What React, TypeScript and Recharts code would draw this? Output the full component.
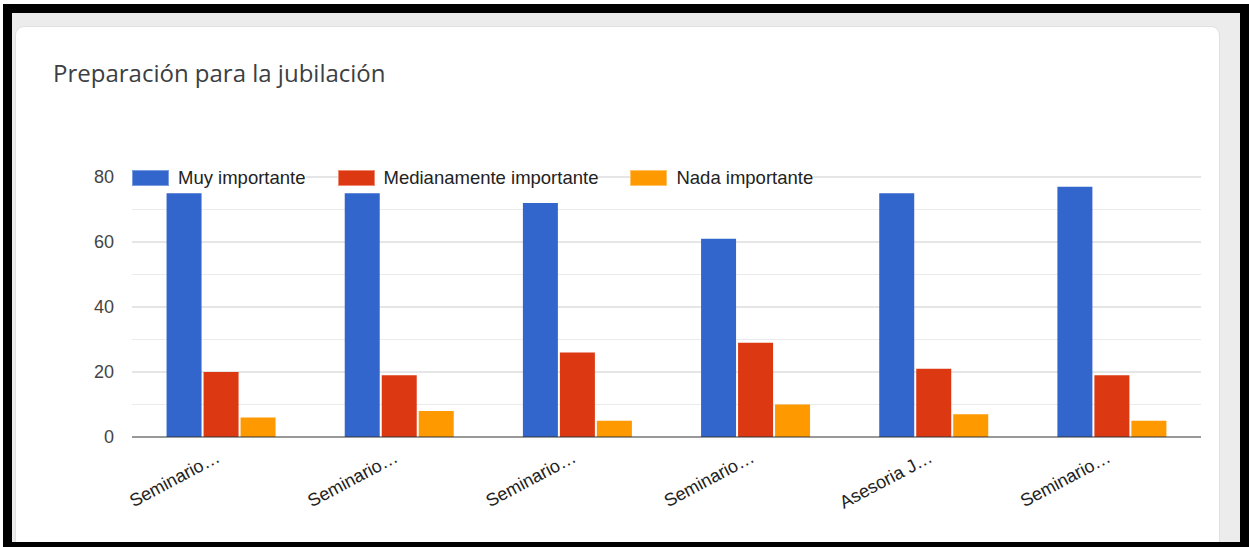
import { Bar, BarChart, CartesianGrid, Legend, XAxis, YAxis } from 'recharts';

const CATEGORIES = ['Seminario…', 'Seminario…', 'Seminario…', 'Seminario…', 'Asesoria J…', 'Seminario…'];
const MUY = [75, 75, 72, 61, 75, 77];
const MEDIANAMENTE = [20, 19, 26, 29, 21, 19];
const NADA = [6, 8, 5, 10, 7, 5];
const Y_TICKS = [0, 20, 40, 60, 80];
const MINOR_LINES = [10, 30, 50, 70];
const MAJOR_LINES = [20, 40, 60, 80];

const SERIES = [
  { key: 'muy', name: 'Muy importante', color: '#3366cc', edge: '#7a9ce0' },
  { key: 'medianamente', name: 'Medianamente importante', color: '#dc3912', edge: '#ec8a72' },
  { key: 'nada', name: 'Nada importante', color: '#ff9900', edge: '#ffc266' },
];

const data = CATEGORIES.map((name, i) => ({
  name,
  muy: MUY[i],
  medianamente: MEDIANAMENTE[i],
  nada: NADA[i],
}));

function SlantedTick({ x, y, payload }: any) {
  return (
    <g transform={`translate(${x},${y + 16})`}>
      <text
        textAnchor="end"
        transform="rotate(-28)"
        fontSize={18}
        fill="#222"
        fontFamily="'Liberation Sans', Arial, sans-serif"
      >
        {payload.value}
      </text>
    </g>
  );
}

function LegendContent() {
  return (
    <div style={{ display: 'flex', alignItems: 'center' }}>
      {SERIES.map((s) => (
        <div
          key={s.key}
          style={{ display: 'flex', alignItems: 'center', background: '#fff', marginRight: 32 }}
        >
          <span
            style={{
              width: 35,
              height: 14,
              background: s.color,
              border: `1px solid ${s.edge}`,
              marginRight: 9,
            }}
          />
          <span style={{ fontSize: 18.5, color: '#222', lineHeight: '20px' }}>{s.name}</span>
        </div>
      ))}
    </div>
  );
}

export default function App() {
  return (
    <div
      style={{
        position: 'absolute',
        left: 0,
        top: 0,
        width: 1249,
        height: 547,
        background: '#fff',
        overflow: 'hidden',
        fontFamily: "'Liberation Sans', Arial, sans-serif",
      }}
    >
      <div style={{ position: 'absolute', left: 3, top: 4, width: 1246, height: 560, background: '#000' }} />
      <div
        style={{
          position: 'absolute',
          left: 12,
          top: 13,
          width: 1228,
          height: 529,
          background: '#ececec',
          overflow: 'hidden',
        }}
      >
        <div
          style={{
            position: 'absolute',
            left: 3,
            top: 13,
            width: 1203,
            height: 528,
            background: '#fff',
            borderRadius: 9,
            border: '1px solid #e0e0e0',
          }}
        />
      </div>
      <div
        style={{
          position: 'absolute',
          left: 53,
          top: 57,
          fontFamily: "'Open Sans', sans-serif",
          fontSize: 24,
          lineHeight: '32px',
          color: '#3c4043',
          whiteSpace: 'nowrap',
        }}
      >
        Preparación para la jubilación
      </div>
      <div style={{ position: 'absolute', left: 0, top: 0 }}>
        <BarChart
          width={1249}
          height={547}
          data={data}
          margin={{ top: 177, right: 48, bottom: 0, left: 0 }}
          barCategoryGap="19.4%"
          barGap={2}
        >
          <CartesianGrid horizontalValues={MINOR_LINES} vertical={false} stroke="#ebebeb" />
          <CartesianGrid horizontalValues={MAJOR_LINES} vertical={false} stroke="#cccccc" />
          <XAxis
            dataKey="name"
            interval={0}
            height={110}
            tickLine={false}
            axisLine={{ stroke: '#333' }}
            tick={<SlantedTick />}
          />
          <YAxis
            width={132}
            domain={[0, 80]}
            ticks={Y_TICKS}
            tickLine={false}
            axisLine={false}
            tickMargin={12}
            tick={{ fontSize: 18, fill: '#444' }}
          />
          <Legend
            verticalAlign="middle"
            align="center"
            layout="horizontal"
            wrapperStyle={{ top: 168, left: 132, width: 'auto' }}
            content={<LegendContent />}
          />
          {SERIES.map((s) => (
            <Bar key={s.key} dataKey={s.key} name={s.name} fill={s.color} isAnimationActive={false} />
          ))}
        </BarChart>
      </div>
    </div>
  );
}
